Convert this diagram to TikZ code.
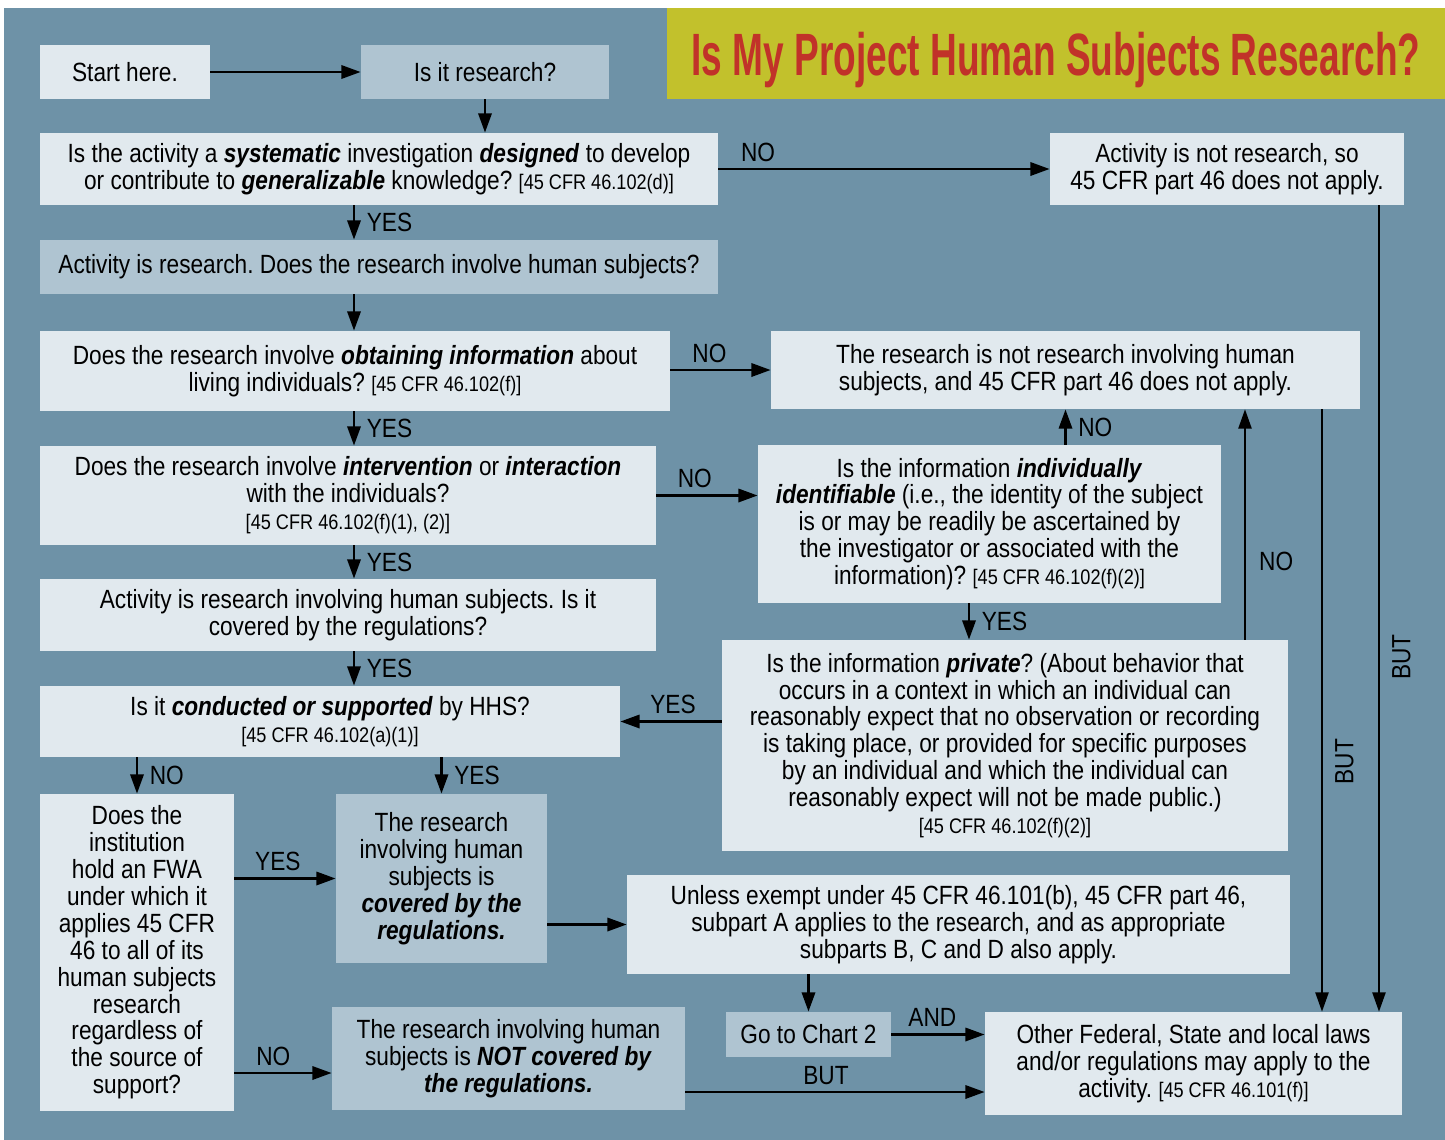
\documentclass[tikz,border=0pt]{standalone}
\usepackage{fontspec}
\setmainfont[FakeStretch=0.86]{Liberation Sans}
\newfontfamily\titlefont[FakeStretch=0.62]{Liberation Sans}
\usetikzlibrary{arrows.meta, positioning, calc}
\frenchspacing

\definecolor{hbg}{HTML}{6E92A7}
\definecolor{hlight}{HTML}{E1E9EE}
\definecolor{hdark}{HTML}{AFC4D1}
\definecolor{htitle}{HTML}{C2C12C}
\definecolor{hred}{HTML}{C13229}

\newcommand\bodyfont{\fontsize{15}{15.3}\selectfont}
\newcommand\cfr[1]{{\fontsize{12}{13}\selectfont #1}}
\newcommand\bfit[1]{\textbf{\textit{#1}}}

\tikzset{
  lbox/.style={fill=hlight, inner sep=0pt, align=center, font=\bodyfont},
  dbox/.style={lbox, fill=hdark},
  arr/.style={-{Triangle[length=11pt,width=7.5pt]}, line width=1.6pt, black},
  thinarr/.style={arr, line width=1.1pt},
  lbl/.style={font=\bodyfont, inner sep=3.5pt},
  butlbl/.style={lbl, rotate=90, anchor=north, inner sep=7pt},
}

\begin{document}
\begin{tikzpicture}[x=0.02cm, y=-0.02cm]
  \useasboundingbox (0,0) rectangle (1445,1140);
  \fill[hbg] (4,8) rectangle (1445,1140);

  %% ── Title ──
  \node[fill=htitle, minimum width=15.56cm, minimum height=1.82cm, inner sep=0pt, text depth=0pt,
        text=hred, font=\titlefont\bfseries\fontsize{34}{36}\selectfont] (title) at (1056,53.5)
        {Is My Project Human Subjects Research?};

  %% ── Left column ──
  \node[lbox, minimum width=3.4cm, minimum height=1.08cm] (start) at (125,72) {Start here.};
  \node[dbox, minimum width=4.96cm, minimum height=1.08cm] (isres) at (485,72) {Is it research?};
  \node[lbox, minimum width=13.56cm, minimum height=1.44cm] (sys) at (379,169)
    {Is the activity a \bfit{systematic} investigation \bfit{designed} to develop\\
     or contribute to \bfit{generalizable} knowledge? \cfr{[45 CFR 46.102(d)]}};
  \node[dbox, minimum width=13.56cm, minimum height=1.08cm] (hum) at (379,267)
    {Activity is research. Does the research involve human subjects?};
  \node[lbox, minimum width=12.6cm, minimum height=1.6cm] (obtain) at (355,371)
    {Does the research involve \bfit{obtaining information} about\\
     living individuals? \cfr{[45 CFR 46.102(f)]}};
  \node[lbox, minimum width=12.32cm, minimum height=1.98cm] (interv) at (348,495.5)
    {Does the research involve \bfit{intervention} or \bfit{interaction}\\
     with the individuals?\\ \cfr{[45 CFR 46.102(f)(1), (2)]}};
  \node[lbox, minimum width=12.32cm, minimum height=1.44cm] (covq) at (348,615)
    {Activity is research involving human subjects. Is it\\
     covered by the regulations?};
  \node[lbox, minimum width=11.6cm, minimum height=1.42cm] (hhs) at (330,721.5)
    {Is it \bfit{conducted or supported} by HHS?\\ \cfr{[45 CFR 46.102(a)(1)]}};
  \node[lbox, minimum width=3.88cm, minimum height=6.34cm] (fwa) at (137,952.5)
    {Does the\\ institution\\ hold an FWA\\ under which it\\ applies 45 CFR\\
     46 to all of its\\ human subjects\\ research\\ regardless of\\ the source of\\ support?};
  \node[dbox, minimum width=4.22cm, minimum height=3.38cm] (covreg) at (441.5,878.5)
    {The research\\ involving human\\ subjects is\\ \bfit{covered by the}\\ \bfit{regulations.}};
  \node[dbox, minimum width=7.06cm, minimum height=2.06cm] (notcov) at (508.5,1058.5)
    {The research involving human\\ subjects is \bfit{NOT covered by}\\ \bfit{the regulations.}};

  %% ── Right column ──
  \node[lbox, minimum width=7.08cm, minimum height=1.44cm] (notres) at (1227,169)
    {Activity is not research, so\\ 45 CFR part 46 does not apply.};
  \node[lbox, minimum width=11.78cm, minimum height=1.56cm] (nothsr) at (1065.5,370)
    {The research is not research involving human\\
     subjects, and 45 CFR part 46 does not apply.};
  \node[lbox, minimum width=9.26cm, minimum height=3.16cm] (ident) at (989.5,524)
    {Is the information \bfit{individually}\\
     \bfit{identifiable} (i.e., the identity of the subject\\
     is or may be readily be ascertained by\\
     the investigator or associated with the\\
     information)? \cfr{[45 CFR 46.102(f)(2)]}};
  \node[lbox, minimum width=11.32cm, minimum height=4.22cm] (private) at (1005,745.5)
    {Is the information \bfit{private}? (About behavior that\\
     occurs in a context in which an individual can\\
     reasonably expect that no observation or recording\\
     is taking place, or provided for specific purposes\\
     by an individual and which the individual can\\
     reasonably expect will not be made public.)\\
     \cfr{[45 CFR 46.102(f)(2)]}};
  \node[lbox, minimum width=13.26cm, minimum height=1.98cm] (unless) at (958.5,924.5)
    {Unless exempt under 45 CFR 46.101(b), 45 CFR part 46,\\
     subpart A applies to the research, and as appropriate\\
     subparts B, C and D also apply.};
  \node[dbox, minimum width=3.3cm, minimum height=0.9cm] (chart2) at (808.5,1034.5) {Go to Chart 2};
  \node[lbox, minimum width=8.34cm, minimum height=2.06cm] (other) at (1193.5,1063.5)
    {Other Federal, State and local laws\\
     and/or regulations may apply to the\\
     activity. \cfr{[45 CFR 46.101(f)]}};

  %% ── Helper columns and rows ──
  \coordinate (spine) at (354,0);
  \coordinate (colip) at (969,0);
  \coordinate (colpn) at (1245,0);
  \coordinate (colbuta) at (1322,0);
  \coordinate (colbutb) at (1379,0);
  \coordinate (rowno) at (0,1073);
  \coordinate (rowbut) at (0,1092);

  %% ── Connectors ──
  \draw[arr] (start) -- (isres);
  \draw[arr] (isres.south) -- (isres.south |- sys.north);
  \draw[arr] (sys) -- (notres) node[lbl, above, pos=0.12] {NO};
  \draw[arr] (sys.south -| spine) -- (hum.north -| spine) node[lbl, right=3pt, midway] {YES};
  \draw[arr] (hum.south -| spine) -- (obtain.north -| spine);
  \draw[arr] (obtain.east |- nothsr) -- (nothsr.west) node[lbl, above, pos=0.39] {NO};
  \draw[arr] (obtain.south -| spine) -- (interv.north -| spine) node[lbl, right=3pt, midway] {YES};
  \draw[arr] (interv.east) -- (interv.east -| ident.west) node[lbl, above, pos=0.38] {NO};
  \draw[arr] (interv.south -| spine) -- (covq.north -| spine) node[lbl, right=3pt, midway] {YES};
  \draw[arr] (ident.north -| nothsr) -- (nothsr.south) node[lbl, right=3pt, midway] {NO};
  \draw[arr] (ident.south -| colip) -- (private.north -| colip) node[lbl, right=3pt, midway] {YES};
  \draw[thinarr] (private.north -| colpn) -- (nothsr.south -| colpn) node[lbl, right=4pt, pos=0.34] {NO};
  \draw[arr] (private.west |- hhs) -- (hhs.east) node[lbl, above, pos=0.48] {YES};
  \draw[arr] (covq.south -| spine) -- (hhs.north -| spine) node[lbl, right=3pt, midway] {YES};
  \draw[arr] (hhs.south -| fwa) -- (fwa.north) node[lbl, right=3pt, midway] {NO};
  \draw[arr] (hhs.south -| covreg) -- (covreg.north) node[lbl, right=3pt, midway] {YES};
  \draw[arr] (fwa.east |- covreg) -- (covreg.west) node[lbl, above, pos=0.43] {YES};
  \draw[arr] (fwa.east |- rowno) -- (notcov.west |- rowno) node[lbl, above, pos=0.4] {NO};
  \draw[arr] (covreg.east |- unless) -- (unless.west);
  \draw[arr] (unless.south -| chart2) -- (chart2.north);
  \draw[arr] (chart2.east) -- (chart2.east -| other.west) node[lbl, above, pos=0.44] {AND};
  \draw[arr] (notcov.east |- rowbut) -- (other.west |- rowbut) node[lbl, above, pos=0.47] {BUT};
  \draw[thinarr] (nothsr.south -| colbuta) -- (other.north -| colbuta) node[butlbl, pos=0.585] {BUT};
  \draw[thinarr] (notres.south -| colbutb) -- (other.north -| colbutb) node[butlbl, pos=0.56] {BUT};
\end{tikzpicture}
\end{document}
